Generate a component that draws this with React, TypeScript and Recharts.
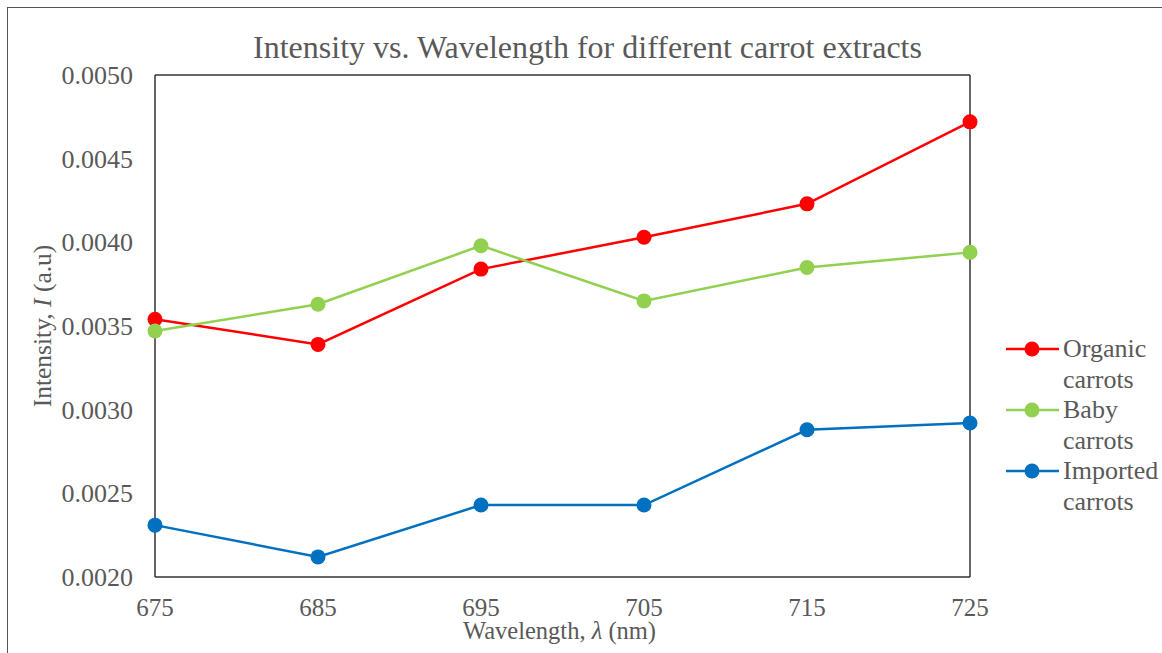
import { Label, Legend, Line, LineChart, XAxis, YAxis } from 'recharts';

const wavelengths = [675, 685, 695, 705, 715, 725];
const organic = [0.00354, 0.00339, 0.00384, 0.00403, 0.00423, 0.00472];
const baby = [0.00347, 0.00363, 0.00398, 0.00365, 0.00385, 0.00394];
const imported = [0.00231, 0.00212, 0.00243, 0.00243, 0.00288, 0.00292];

const xTicks = [675, 685, 695, 705, 715, 725];
const yTicks = [0.002, 0.0025, 0.003, 0.0035, 0.004, 0.0045, 0.005];

const series = [
  { key: 'organic', name: 'Organic carrots', color: '#FF0000' },
  { key: 'baby', name: 'Baby carrots', color: '#92D050' },
  { key: 'imported', name: 'Imported carrots', color: '#0070C0' },
];

const data = wavelengths.map((w, i) => ({
  w,
  organic: organic[i],
  baby: baby[i],
  imported: imported[i],
}));

const FONT = '"Liberation Serif", "Times New Roman", serif';
const TEXT = '#595959';
const FRAME = '#333333';

// recharts hands ticks a position already shifted 8px off the axis
function XTick({ x, y, payload }: any) {
  return (
    <text x={x} y={y + 31} textAnchor="middle" fontFamily={FONT} fontSize={25} fill={TEXT}>
      {payload.value}
    </text>
  );
}

function YTick({ x, y, payload }: any) {
  return (
    <text x={x - 14} y={y + 9} textAnchor="end" fontFamily={FONT} fontSize={26} fill={TEXT}>
      {Number(payload.value).toFixed(4)}
    </text>
  );
}

function XTitle(props: any) {
  const { viewBox } = props;
  const cx = viewBox.x + viewBox.width / 2 - 3;
  const y = viewBox.y + 62;
  return (
    <text x={cx} y={y} textAnchor="middle" fontFamily={FONT} fontSize={24.5} fill={TEXT}>
      <tspan>Wavelength, </tspan>
      <tspan fontStyle="italic">λ</tspan>
      <tspan> (nm)</tspan>
    </text>
  );
}

function YTitle(props: any) {
  const { viewBox } = props;
  const cy = viewBox.y + viewBox.height / 2;
  const x = 51;
  return (
    <text
      x={x}
      y={cy}
      textAnchor="middle"
      fontFamily={FONT}
      fontSize={25.5}
      fill={TEXT}
      transform={`rotate(-90 ${x} ${cy})`}
    >
      <tspan>Intensity, </tspan>
      <tspan fontStyle="italic">I</tspan>
      <tspan> (a.u)</tspan>
    </text>
  );
}

function ChartTitle(props: any) {
  const { viewBox } = props;
  const cx = viewBox.x + viewBox.width / 2 + 25;
  return (
    <text
      x={cx}
      y={viewBox.y + viewBox.height - 17}
      textAnchor="middle"
      fontFamily={FONT}
      fontSize={32}
      fill={TEXT}
    >
      Intensity vs. Wavelength for different carrot extracts
    </text>
  );
}

function LegendBox({ payload }: any) {
  const order = series.map((s) => s.name);
  const items = [...(payload ?? [])].sort(
    (a: any, b: any) => order.indexOf(a.value) - order.indexOf(b.value),
  );
  return (
    <svg width={162} height={items.length * 61}>
      {items.map((p: any, i: number) => {
        const words = String(p.value).split(' ');
        const y0 = i * 61 + 15;
        return (
          <g key={i}>
            <line x1={6} x2={59} y1={y0} y2={y0} stroke={p.color} strokeWidth={2.5} />
            <circle cx={32} cy={y0} r={7.5} fill={p.color} />
            <text x={63} y={y0 + 8} fontFamily={FONT} fontSize={26} fill={TEXT}>
              {words[0]}
            </text>
            <text x={63} y={y0 + 39} fontFamily={FONT} fontSize={26} fill={TEXT}>
              {words[1]}
            </text>
          </g>
        );
      })}
    </svg>
  );
}

export default function App() {
  return (
    <div
      style={{
        position: 'absolute',
        left: 0,
        top: 0,
        width: 1162,
        height: 653,
        overflow: 'hidden',
        background: '#fff',
        fontFamily: FONT,
      }}
    >
      <div
        style={{
          position: 'absolute',
          left: 7,
          top: 7,
          width: 1180,
          height: 680,
          border: '1.5px solid #555',
        }}
      />
      <div style={{ position: 'absolute', left: 0, top: 0 }}>
        <LineChart
          width={1162}
          height={653}
          data={data}
          margin={{ top: 74, right: 191, bottom: 16, left: 75 }}
        >
          <XAxis
            dataKey="w"
            type="number"
            domain={[675, 725]}
            ticks={xTicks}
            tick={<XTick />}
            tickLine={false}
            axisLine={{ stroke: FRAME, strokeWidth: 1.5 }}
            height={60}
            interval={0}
          >
            <Label content={<XTitle />} />
          </XAxis>
          <XAxis
            xAxisId="top"
            orientation="top"
            dataKey="w"
            type="number"
            domain={[675, 725]}
            tick={false}
            tickLine={false}
            axisLine={{ stroke: FRAME, strokeWidth: 1.5 }}
            height={1}
          >
            <Label content={<ChartTitle />} />
          </XAxis>
          <YAxis
            type="number"
            domain={[0.002, 0.005]}
            ticks={yTicks}
            tick={<YTick />}
            tickLine={false}
            axisLine={{ stroke: FRAME, strokeWidth: 1.5 }}
            width={80}
            interval={0}
          >
            <Label content={<YTitle />} />
          </YAxis>
          <YAxis
            yAxisId="right"
            orientation="right"
            type="number"
            domain={[0.002, 0.005]}
            tick={false}
            tickLine={false}
            axisLine={{ stroke: FRAME, strokeWidth: 1.5 }}
            width={1}
          />
          <Legend
            layout="vertical"
            align="center"
            verticalAlign="middle"
            content={<LegendBox />}
            wrapperStyle={{ position: 'absolute', left: 1000, top: 334, width: 162 }}
          />
          {series.map((s) => (
            <Line
              key={s.key}
              type="linear"
              dataKey={s.key}
              name={s.name}
              stroke={s.color}
              strokeWidth={2.5}
              dot={{ r: 7.5, fill: s.color, stroke: s.color, strokeWidth: 0 }}
              activeDot={false}
              isAnimationActive={false}
            />
          ))}
        </LineChart>
      </div>
    </div>
  );
}
